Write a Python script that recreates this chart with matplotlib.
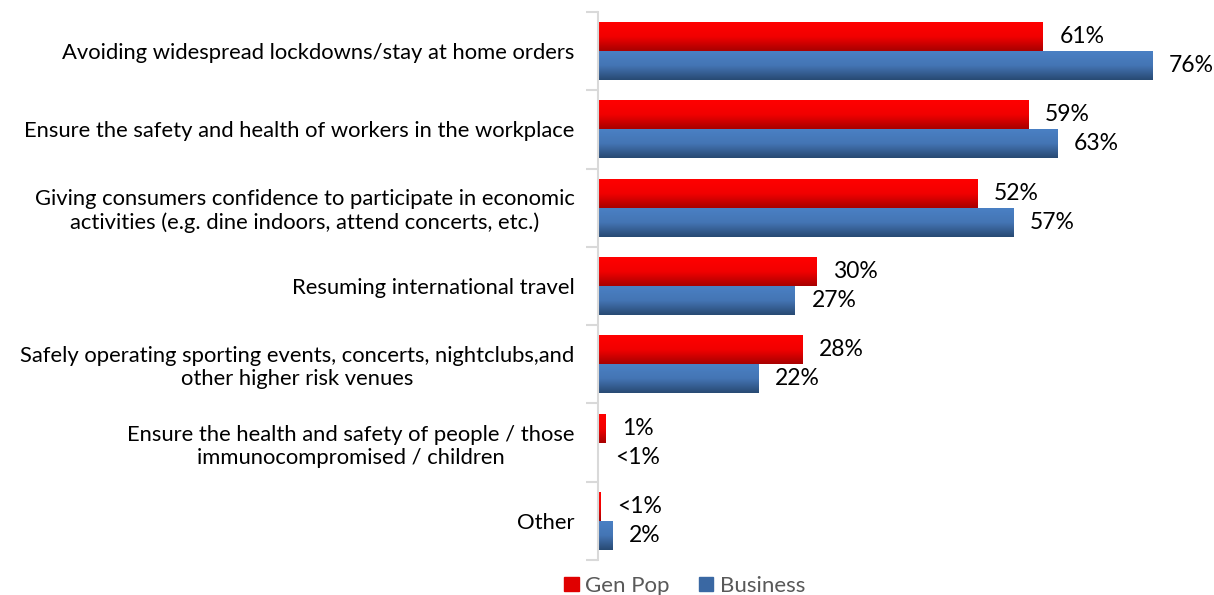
import numpy as np
import matplotlib.pyplot as plt
from matplotlib.colors import LinearSegmentedColormap
from matplotlib.patches import Rectangle

plt.rcParams['font.family'] = ['Lato', 'DejaVu Sans']

# Priorities, top to bottom
CATEGORIES = [
    'Avoiding widespread lockdowns/stay at home orders',
    'Ensure the safety and health of workers in the workplace',
    'Giving consumers confidence to participate in economic\nactivities (e.g. dine indoors, attend concerts, etc.)',
    'Resuming international travel',
    'Safely operating sporting events, concerts, nightclubs,and\nother higher risk venues',
    'Ensure the health and safety of people / those\nimmunocompromised / children',
    'Other',
]

GEN_POP = [61, 59, 52, 30, 28, 1, 0.3]
BUSINESS = [76, 63, 57, 27, 22, 0, 2]

GEN_POP_LABELS = ['61%', '59%', '52%', '30%', '28%', '1%', '<1%']
BUSINESS_LABELS = ['76%', '63%', '57%', '27%', '22%', '<1%', '2%']

RED = LinearSegmentedColormap.from_list('red', ['#ff0000', '#f20000', '#a80000'])
BLUE = LinearSegmentedColormap.from_list('blue', ['#4a80c4', '#4475b4', '#284a73'])

fig = plt.figure(figsize=(12.14, 5.95), dpi=100)
ax = fig.add_axes([598 / 1214, 35 / 595, 616 / 1214, 548 / 595])

n = len(CATEGORIES)
y = np.arange(n)
h = 0.37
grad = np.linspace(0, 1, 64).reshape(-1, 1)


def gradient_bars(vals, offs, cmap):
    bars = ax.barh(y + offs, vals, height=h, color='none', edgecolor='none')
    for b in bars:
        x0, y0 = b.get_x(), b.get_y()
        w, hh = b.get_width(), b.get_height()
        if w <= 0:
            continue
        # gradient runs top (light) to bottom (dark); y axis is inverted
        ax.imshow(grad, cmap=cmap, aspect='auto', interpolation='bicubic',
                  extent=(x0, x0 + w, y0 + hh, y0), origin='upper', zorder=2)
    return bars


gradient_bars(GEN_POP, -h / 2, RED)
gradient_bars(BUSINESS, h / 2, BLUE)

for i in range(n):
    ax.annotate(GEN_POP_LABELS[i], (GEN_POP[i], y[i] - h / 2), xytext=(12, 0),
                textcoords='offset points', va='center', ha='left', fontsize=16.5,
                color='black')
    ax.annotate(BUSINESS_LABELS[i], (BUSINESS[i], y[i] + h / 2), xytext=(12, 0),
                textcoords='offset points', va='center', ha='left', fontsize=16.5,
                color='black')

ax.set_xlim(0, 616 / 7.29)
ax.set_ylim(n - 0.5, -0.5)
ax.set_yticks(y)
ax.set_yticklabels(CATEGORIES, fontsize=15.8, multialignment='center')
ax.tick_params(axis='y', which='major', length=0, pad=17)
ax.set_yticks(np.arange(n + 1) - 0.5, minor=True)
ax.tick_params(axis='y', which='minor', length=9, color='#d9d9d9', width=1.5)
ax.set_xticks([])
for s in ['top', 'right', 'bottom']:
    ax.spines[s].set_visible(False)
ax.spines['left'].set_color('#d9d9d9')
ax.spines['left'].set_linewidth(1.5)

# legend at the bottom
handles = [Rectangle((0, 0), 1, 1, color='#e00000'), Rectangle((0, 0), 1, 1, color='#3a68a3')]
leg = fig.legend(handles, ['Gen Pop', 'Business'], loc='lower center',
                 bbox_to_anchor=(0.564, -0.035), ncol=2, frameon=False,
                 fontsize=16, handlelength=0.65, handleheight=0.65,
                 handletextpad=0.3, columnspacing=1.3)
for t in leg.get_texts():
    t.set_color('#595959')

fig.savefig('out.png', dpi=100, facecolor='white')
